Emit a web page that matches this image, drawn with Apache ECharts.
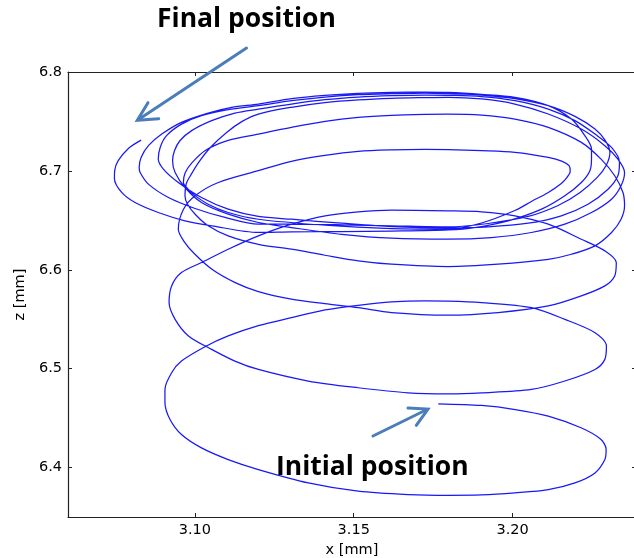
<!DOCTYPE html>
<html>
<head>
<meta charset="utf-8">
<script src="https://cdn.jsdelivr.net/npm/echarts@6/dist/echarts.min.js"></script>
<style>
html,body{margin:0;padding:0;background:#fff;}
#chart{width:634px;height:558px;}
</style>
</head>
<body>
<div id="chart"></div>
<script>
// tick labels
const xTicks = [3.10, 3.15, 3.20];
const zTicks = [6.4, 6.5, 6.6, 6.7, 6.8];

// trajectory, in path order: x [mm]
const xVals = [
 3.1766,3.1901,3.2008,3.2112,3.2215,3.2278,3.2294,
 3.2290,3.2259,3.2196,3.2112,3.2007,3.1901,3.1797,3.1671,3.1514,3.1357,3.1200,3.1105,3.1021,3.0958,3.0922,3.0906,3.0906,
 3.0927,3.0958,3.1032,3.1105,3.1200,3.1304,3.1410,3.1514,3.1619,3.1724,3.1797,3.1902,3.2059,3.2164,3.2259,3.2295,
 3.2290,3.2259,3.2164,3.2059,3.1902,3.1797,3.1671,3.1514,3.1357,3.1200,3.1126,3.1053,3.0980,3.0938,3.0919,
 3.0927,3.0958,3.1021,3.1105,3.1200,3.1304,3.1410,3.1514,3.1619,3.1797,3.1902,3.2007,3.2112,3.2216,3.2290,3.2326,
 3.2321,3.2290,3.2216,3.2112,3.1954,3.1797,3.1619,3.1514,3.1409,3.1304,3.1200,3.1127,3.1055,3.0998,3.0967,3.0948,
 3.0964,3.1002,3.1074,3.1200,3.1304,3.1409,3.1514,3.1619,3.1724,3.1797,3.1902,3.2007,3.2112,3.2156,3.2178,
 3.2181,3.2171,3.2153,3.2112,3.2059,3.2007,3.1902,3.1797,3.1619,3.1409,3.1200,3.1105,3.1042,3.0995,3.0969,3.0964,
 3.0970,3.0992,3.1033,3.1105,3.1200,3.1304,3.1410,3.1514,3.1619,3.1724,3.1797,3.1902,3.2007,3.2112,3.2216,3.2278,3.2321,3.2347,3.2352,
 3.2341,3.2311,3.2259,3.2185,3.2112,3.1954,3.1797,3.1619,3.1514,3.1409,3.1304,3.1200,3.1105,3.1042,3.1001,3.0977,3.0969,
 3.0973,3.0986,3.1011,3.1049,3.1100,3.1149,3.1200,3.1304,3.1409,3.1514,3.1619,3.1724,3.1797,3.1902,3.2007,3.2112,3.2216,3.2290,3.2331,3.2352,
 3.2341,3.2311,3.2248,3.2164,3.2059,3.1933,3.1797,3.1619,3.1462,3.1304,3.1200,3.1105,3.1021,3.0969,3.0938,3.0930,
 3.0936,3.0953,3.0990,3.1053,3.1126,3.1200,3.1304,3.1409,3.1514,3.1619,3.1724,3.1797,3.1902,3.2007,3.2112,3.2196,3.2259,3.2311,3.2336,
 3.2331,3.2300,3.2237,3.2153,3.2049,3.1923,3.1797,3.1619,3.1462,3.1304,3.1200,3.1105,3.1021,3.0948,3.0901,3.0885,
 3.0891,3.0911,3.0958,3.1021,3.1105,3.1200,3.1304,3.1409,3.1514,3.1619,3.1724,3.1797,3.1902,3.2007,3.2112,3.2196,3.2259,3.2291,3.2306,
 3.2294,3.2266,3.2212,3.2143,3.2049,3.1923,3.1797,3.1619,3.1462,3.1304,3.1200,3.1095,3.1001,3.0917,3.0854,3.0828,3.0825,
 3.0831,3.0854,3.0896,3.0958,3.1042,3.1116,3.1200,3.1304,3.1409,3.1514,3.1619,3.1724,3.1797,3.1902,3.2007,3.2112,3.2185,3.2227,3.2248,3.2248,
 3.2243,3.2216,3.2164,3.2091,3.1986,3.1881,3.1797,3.1619,3.1462,3.1304,3.1200,3.1053,3.0969,3.0885,3.0812,3.0770,3.0747,3.0748,3.0759,3.0791,3.0831
];
// trajectory, in path order: z [mm]
const zVals = [
 6.4645,6.4628,6.4587,6.4520,6.4402,6.4284,6.4182,
 6.4081,6.3946,6.3845,6.3777,6.3744,6.3723,6.3719,6.3727,6.3761,6.3845,6.3980,6.4081,6.4199,6.4334,6.4486,6.4655,6.4790,
 6.4959,6.5077,6.5222,6.5331,6.5435,6.5516,6.5594,6.5641,6.5675,6.5685,6.5683,6.5668,6.5617,6.5499,6.5364,6.5229,
 6.5094,6.4992,6.4875,6.4790,6.4756,6.4746,6.4756,6.4807,6.4875,6.4992,6.5077,6.5195,6.5331,6.5499,6.5668,
 6.5837,6.5972,6.6073,6.6208,6.6343,6.6461,6.6546,6.6586,6.6603,6.6596,6.6586,6.6546,6.6461,6.6309,6.6191,6.6073,
 6.5938,6.5837,6.5736,6.5634,6.5567,6.5541,6.5567,6.5617,6.5658,6.5703,6.5779,6.5870,6.6002,6.6164,6.6283,6.6410,
 6.6610,6.6751,6.6883,6.7002,6.7096,6.7156,6.7197,6.7212,6.7217,6.7214,6.7204,6.7187,6.7136,6.7096,6.7050,
 6.6994,6.6935,6.6873,6.6782,6.6691,6.6599,6.6473,6.6410,6.6417,6.6451,6.6511,6.6579,6.6663,6.6765,6.6850,6.6883,
 6.6984,6.7086,6.7207,6.7308,6.7372,6.7440,6.7501,6.7541,6.7562,6.7572,6.7575,6.7565,6.7524,6.7440,6.7288,6.7119,6.6951,6.6782,6.6647,
 6.6511,6.6377,6.6242,6.6157,6.6106,6.6056,6.6032,6.6056,6.6090,6.6147,6.6208,6.6258,6.6343,6.6445,6.6562,6.6663,6.6748,
 6.6870,6.6951,6.7082,6.7237,6.7389,6.7501,6.7575,6.7643,6.7690,6.7718,6.7734,6.7741,6.7744,6.7727,6.7676,6.7575,6.7423,6.7255,6.7119,6.6984,
 6.6850,6.6714,6.6579,6.6461,6.6377,6.6326,6.6309,6.6319,6.6359,6.6427,6.6478,6.6562,6.6680,6.6832,6.6984,6.7103,
 6.7204,6.7305,6.7407,6.7508,6.7585,6.7625,6.7676,6.7720,6.7747,6.7761,6.7767,6.7764,6.7751,6.7710,6.7625,6.7508,6.7372,6.7237,6.7086,
 6.6951,6.6815,6.6663,6.6546,6.6471,6.6434,6.6424,6.6437,6.6471,6.6511,6.6539,6.6613,6.6731,6.6883,6.7018,6.7119,
 6.7237,6.7356,6.7473,6.7558,6.7619,6.7660,6.7710,6.7747,6.7771,6.7781,6.7787,6.7781,6.7767,6.7731,6.7660,6.7551,6.7423,6.7308,6.7187,
 6.7055,6.6934,6.6782,6.6650,6.6539,6.6468,6.6434,6.6445,6.6455,6.6461,6.6461,6.6529,6.6620,6.6731,6.6866,6.6984,6.7035,
 6.7136,6.7255,6.7372,6.7491,6.7585,6.7643,6.7676,6.7731,6.7764,6.7784,6.7794,6.7797,6.7794,6.7774,6.7744,6.7660,6.7524,6.7356,6.7220,6.7119,
 6.7002,6.6883,6.6748,6.6613,6.6495,6.6427,6.6404,6.6392,6.6387,6.6384,6.6377,6.6445,6.6495,6.6579,6.6680,6.6782,6.6924,6.7005,6.7103,6.7227,6.7311
];

const xRange = [3.0601, 3.2388];
const zRange = [6.35, 6.8];

const chart = echarts.init(document.getElementById('chart'), null, {renderer: 'canvas'});
const tickFont = {fontFamily: 'DejaVu Sans', fontSize: 14.5, color: '#000'};
const spine = {show: true, onZero: false, lineStyle: {color: '#222', width: 1.2}};
const tickStyle = (vals) => ({show: true, inside: true, length: 4, customValues: vals, lineStyle: {color: '#222', width: 1}});
const arrowColor = '#4a7ebb';

chart.setOption({
  backgroundColor: '#fff',
  animation: false,
  grid: {left: 68, top: 72, width: 568, height: 445, containLabel: false, outerBoundsMode: 'none'},
  xAxis: [
    {type: 'value', min: xRange[0], max: xRange[1], position: 'bottom',
     axisLine: spine, axisTick: tickStyle(xTicks),
     axisLabel: Object.assign({customValues: xTicks, margin: 6, formatter: v => v.toFixed(2)}, tickFont),
     splitLine: {show: false},
     name: 'x [mm]', nameLocation: 'middle', nameGap: 23,
     nameTextStyle: {fontFamily: 'DejaVu Sans', fontSize: 14.5, color: '#000'}},
    {type: 'value', min: xRange[0], max: xRange[1], position: 'top',
     axisLine: spine, axisTick: tickStyle(xTicks), axisLabel: {show: false}, splitLine: {show: false}}
  ],
  yAxis: [
    {type: 'value', min: zRange[0], max: zRange[1], position: 'left',
     axisLine: spine, axisTick: tickStyle(zTicks),
     axisLabel: Object.assign({customValues: zTicks, margin: 6, formatter: v => v.toFixed(1)}, tickFont),
     splitLine: {show: false},
     name: 'z [mm]', nameLocation: 'middle', nameGap: 30, nameRotate: 90,
     nameTextStyle: {fontFamily: 'DejaVu Sans', fontSize: 14.5, color: '#000'}},
    {type: 'value', min: zRange[0], max: zRange[1], position: 'right',
     axisLine: spine, axisTick: tickStyle(zTicks), axisLabel: {show: false}, splitLine: {show: false}}
  ],
  series: [{
    type: 'line',
    data: xVals.map((x, i) => [x, zVals[i]]),
    showSymbol: false,
    symbol: 'none',
    smooth: 0.3,
    lineStyle: {color: 'rgb(25,25,245)', width: 1.25},
    z: 2
  }],
  graphic: [
    {type: 'text', x: 157, y: 19.5, z: 10,
     style: {text: 'Final position', font: 'bold 26.5px "Open Sans"', fill: '#000', textAlign: 'left', textVerticalAlign: 'middle'}},
    {type: 'text', x: 276, y: 467.5, z: 10,
     style: {text: 'Initial position', font: 'bold 26.5px "Open Sans"', fill: '#000', textAlign: 'left', textVerticalAlign: 'middle'}},
    {type: 'line', z: 10, shape: {x1: 246.5, y1: 48, x2: 138.5, y2: 119.5}, style: {stroke: arrowColor, lineWidth: 3, lineCap: 'round'}},
    {type: 'polyline', z: 10, shape: {points: [[148, 102.7], [137.3, 120.3], [158.7, 118.7]]}, style: {stroke: arrowColor, lineWidth: 3, fill: null, lineCap: 'round', lineJoin: 'miter'}},
    {type: 'line', z: 10, shape: {x1: 373, y1: 436, x2: 427, y2: 409.5}, style: {stroke: arrowColor, lineWidth: 3, lineCap: 'round'}},
    {type: 'polyline', z: 10, shape: {points: [[408, 408], [428, 409], [416.3, 425.3]]}, style: {stroke: arrowColor, lineWidth: 3, fill: null, lineCap: 'round', lineJoin: 'miter'}}
  ]
});
</script>
</body>
</html>
